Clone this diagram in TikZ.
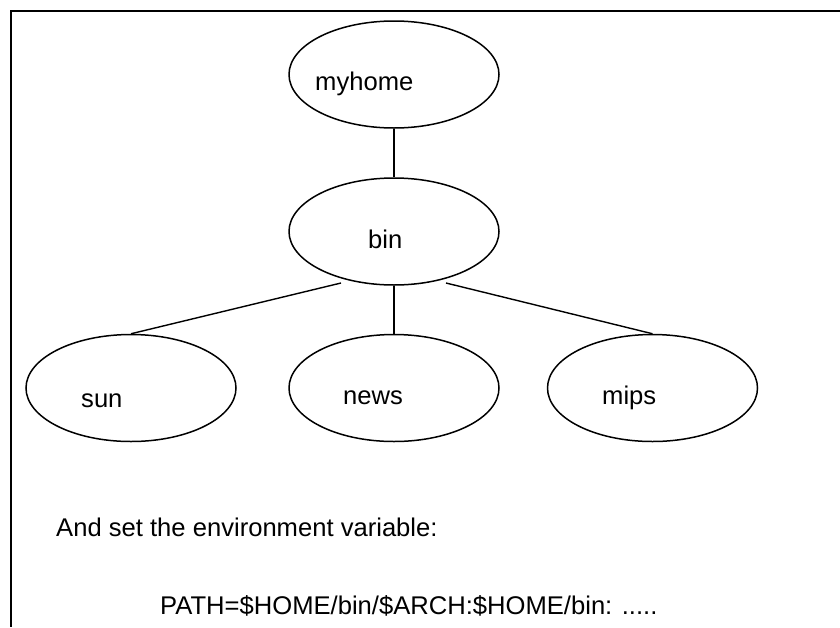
\documentclass[tikz,border=0pt]{standalone}
\usepackage{fontspec}
\setmainfont{Liberation Sans}
\usetikzlibrary{shapes.geometric,calc}
\begin{document}
\begin{tikzpicture}[x=1pt,y=-1pt,
  dirnode/.style={ellipse,draw,line width=1.5pt,minimum width=210pt,minimum height=107pt,inner sep=0pt},
  lbl/.style={anchor=base west,inner sep=0pt,font=\fontsize{25.6pt}{30pt}\selectfont},
  link/.style={line width=1.4pt}]
\useasboundingbox (0,0) rectangle (840,627);

% frame: top and left edges only
\coordinate (frameTL) at (11,11);
\coordinate (frameTR) at (840,11);
\coordinate (frameBL) at (11,627);
\draw[line width=1.5pt] (frameTR) -- (frameTL) -- (frameBL);

% directory tree
\node[dirnode] (myhome) at (394,74.5) {};
\node[dirnode] (bin) at (394,231.5) {};
\node[dirnode] (sun) at (131,388) {};
\node[dirnode] (news) at (394,388) {};
\node[dirnode] (mips) at (652.5,388) {};

\node[lbl] (myhomeT) at ($(myhome.center)+(-79,15.5)$) {myhome};
\node[lbl] (binT) at ($(bin.center)+(-26,16.5)$) {bin};
\node[lbl] (sunT) at ($(sun.center)+(-50,19)$) {sun};
\node[lbl] (newsT) at ($(news.center)+(-51,16)$) {news};
\node[lbl] (mipsT) at ($(mips.center)+(-50.5,16)$) {mips};

\coordinate (binL) at ($(bin.center)+(-53,51.5)$);
\coordinate (binR) at ($(bin.center)+(52,51.5)$);

\draw[link] (myhome.south) -- (bin.north);
\draw[link] (binL) -- (sun.north);
\draw[link] (bin.south) -- (news.north);
\draw[link] (binR) -- (mips.north);

% explanatory text
\node[lbl] (note) at (56,536) {And set the environment variable:};
\node[lbl] (pathT) at (160,614) {PATH=\$HOME/bin/\$ARCH:\$HOME/bin: .....};
\end{tikzpicture}
\end{document}
